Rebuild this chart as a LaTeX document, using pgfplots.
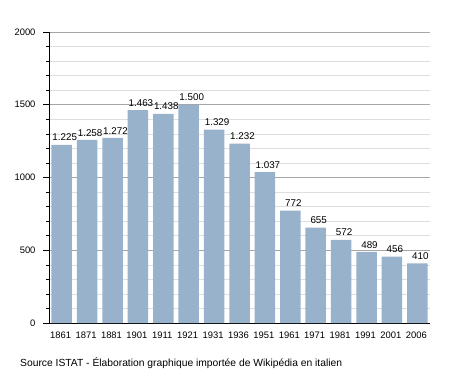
\documentclass[border=0pt]{standalone}
\usepackage{pgfplots}
\pgfplotsset{compat=1.18}
\usepackage{fontspec}
\setmainfont{Liberation Sans}
\definecolor{barblue}{RGB}{152,178,204}
\begin{document}
\begin{tikzpicture}
\useasboundingbox (0pt,0pt) rectangle (458pt,373pt);
\begin{axis}[
  at={(49pt,50pt)}, anchor=south west,
  scale only axis, width=381pt, height=291pt,
  xmin=-0.5, xmax=14.5, ymin=0, ymax=2000,
  axis x line*=bottom, axis y line*=left,
  axis line style={black, line width=0.8pt},
  xtick={0,...,14},
  xticklabels={1861,1871,1881,1901,1911,1921,1931,1936,1951,1961,1971,1981,1991,2001,2006},
  major x tick style={draw=none},
  ytick={0,500,1000,1500,2000},
  minor y tick num=4,
  ymajorgrids, yminorgrids,
  major grid style={draw=black!35, line width=0.6pt},
  minor grid style={draw=black!13, line width=0.6pt},
  tick align=outside,
  major tick length=6pt, minor tick length=3pt,
  y tick style={black, line width=0.6pt},
  tick label style={font=\fontsize{9.4}{10}\selectfont},
  /pgf/number format/assume math mode=true,
  scaled y ticks=false,
  yticklabel style={/pgf/number format/1000 sep={}, xshift=-4pt},
  xticklabel style={yshift=1pt, xshift=-1pt},
  nodes near coords,
  nodes near coords style={font=\fontsize{9.8}{10}\selectfont, black, inner sep=1pt, yshift=2.5pt, xshift=3pt, /pgf/number format/.cd, fixed, precision=0, 1000 sep={.}, assume math mode=true},
  clip=false,
]
\addplot[ybar, bar width=20.5pt, fill=barblue, draw=none] coordinates {
(0,1225) (1,1258) (2,1272) (3,1463) (4,1438) (5,1500) (6,1329) (7,1232)
(8,1037) (9,772) (10,655) (11,572) (12,489) (13,456) (14,410)};
\end{axis}
\node[anchor=west, inner sep=0pt, font=\fontsize{10.3}{11}\selectfont] at (20pt,10pt) {Source ISTAT - Élaboration graphique importée de Wikipédia en italien};
\end{tikzpicture}
\end{document}
